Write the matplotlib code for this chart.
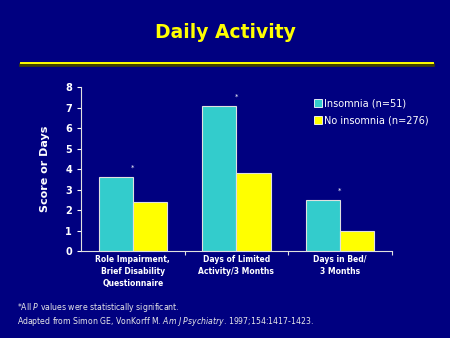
import numpy as np
import matplotlib.pyplot as plt
from matplotlib.lines import Line2D

# bar data
categories = ['Role Impairment,\nBrief Disability\nQuestionnaire',
              'Days of Limited\nActivity/3 Months',
              'Days in Bed/\n3 Months']
insomnia = [3.6, 7.1, 2.5]
no_insomnia = [2.4, 3.8, 1.0]
series_names = ['Insomnia (n=51)', 'No insomnia (n=276)']

bg = '#000080'
cyan = '#33CCCC'
yellow = '#FFFF00'

fig = plt.figure(figsize=(4.5, 3.38), dpi=100, facecolor=bg)
ax = fig.add_axes([0.18, 0.2574, 0.6904, 0.4843])
ax.set_facecolor(bg)

x = np.arange(len(categories))
w = 0.33
ax.bar(x - w / 2, insomnia, w, color=cyan, edgecolor='#E0E0E0', linewidth=0.8)
ax.bar(x + w / 2, no_insomnia, w, color=yellow, edgecolor='#E0E0E0', linewidth=0.8)

# significance marks
for i, v in enumerate(insomnia):
    ax.text(i, v + 0.3, '*', color='white', fontsize=5, ha='center', va='bottom')

ax.set_xlim(-0.5, 2.5)
ax.set_ylim(0, 8)
ax.set_yticks(range(0, 9))
ax.set_xticks([0.5, 1.5, 2.5])
ax.set_xticklabels([])
ax.tick_params(axis='y', colors='white', labelsize=7, length=3, width=0.8)
ax.tick_params(axis='x', colors='#E0E0E0', length=3, width=0.8)
for lab in ax.get_yticklabels():
    lab.set_fontweight('bold')
for s in ['top', 'right']:
    ax.spines[s].set_visible(False)
for s in ['left', 'bottom']:
    ax.spines[s].set_color('#E0E0E0')
    ax.spines[s].set_linewidth(0.8)

for i, c in enumerate(categories):
    ax.text(i, -0.2, c, color='white', fontsize=5.5, fontweight='bold',
            ha='center', va='top', linespacing=1.45)

ax.set_ylabel('Score or Days', color='white', fontsize=8, fontweight='bold', labelpad=11)

# legend
handles = [Line2D([], [], marker='s', ls='', markersize=5.5, markerfacecolor=cyan,
                  markeredgecolor='white', markeredgewidth=0.6),
           Line2D([], [], marker='s', ls='', markersize=5.5, markerfacecolor=yellow,
                  markeredgecolor='white', markeredgewidth=0.6)]
leg = fig.legend(handles, series_names, loc='upper left', bbox_to_anchor=(0.688, 0.722),
                 frameon=False, fontsize=7, handlelength=0.7, handletextpad=0.25,
                 labelspacing=0.65, borderpad=0)
for t in leg.get_texts():
    t.set_color('white')

# title and rule
fig.text(0.5, 0.905, 'Daily Activity', color=yellow, fontsize=13.5, fontweight='bold',
         ha='center', va='center')
fig.add_artist(Line2D([0.047, 0.962], [0.809, 0.809], color='#404000', lw=2.6))
fig.add_artist(Line2D([0.047, 0.962], [0.813, 0.813], color=yellow, lw=1.4))

# footnotes
fig.text(0.038, 0.089, '*All $\\it{P}$ values were statistically significant.',
         color='#E8E8E8', fontsize=5.6, ha='left', va='center')
fig.text(0.038, 0.050, 'Adapted from Simon GE, VonKorff M. $\\it{Am\\ J\\ Psychiatry}$. 1997;154:1417-1423.',
         color='#E8E8E8', fontsize=5.6, ha='left', va='center')

fig.savefig('out.png', dpi=100, facecolor=bg)
